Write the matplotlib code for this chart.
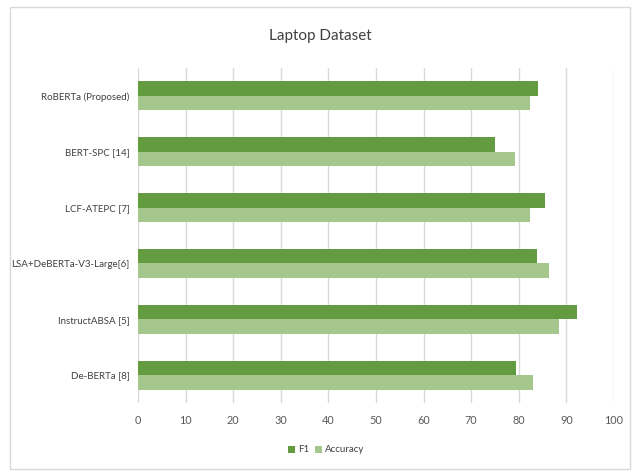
import matplotlib
matplotlib.use("Agg")
import matplotlib.pyplot as plt
import numpy as np
from matplotlib.patches import Rectangle

categories = ["RoBERTa (Proposed)", "BERT-SPC [14]", "LCF-ATEPC [7]",
              "LSA+DeBERTa-V3-Large[6]", "InstructABSA [5]", "De-BERTa [8]"]
f1 = [84.1, 75.1, 85.4, 83.9, 92.3, 79.4]
accuracy = [82.4, 79.1, 82.3, 86.3, 88.4, 82.9]
xticks = [0, 10, 20, 30, 40, 50, 60, 70, 80, 90, 100]

plt.rcParams['font.family'] = ['Lato', 'DejaVu Sans']

fig = plt.figure(figsize=(6.4, 4.72), dpi=100)
ax = fig.add_axes([138/640, 1-403/472, (614-138)/640, (403-68)/472])

n = len(categories)
y = np.arange(n)
h = 0.26
c_f1 = "#639c40"
c_acc = "#a5c78e"
ax.barh(y - h/2, f1, height=h, color=c_f1, label="F1", zorder=3)
ax.barh(y + h/2, accuracy, height=h, color=c_acc, label="Accuracy", zorder=3)

ax.set_ylim(n - 0.5, -0.5)
ax.set_xlim(0, 100)
ax.set_yticks(y)
ax.set_yticklabels(categories, fontsize=7, color="#404040")
ax.set_xticks(xticks)
ax.set_xticklabels([str(t) for t in xticks], fontsize=7.8, color="#595959")
ax.tick_params(axis='x', length=0, pad=9)
ax.tick_params(axis='y', length=0, pad=6)
ax.grid(axis='x', color="#d9d9d9", linewidth=1, zorder=0)
for s in ax.spines.values():
    s.set_visible(False)

fig.text(0.5, 1-36/472, "Laptop Dataset", ha='center', va='center', fontsize=11, color="#404040")

leg = fig.legend(loc='center', bbox_to_anchor=(326/640, 1-450/472), ncol=2, frameon=False,
                 fontsize=7, handlelength=0.7, handleheight=0.7, columnspacing=0.6,
                 handletextpad=0.3, labelcolor="#404040")

fig.patches.append(Rectangle((10/640, 1-469/472), 620/640, 462/472, transform=fig.transFigure,
                             fill=False, edgecolor="#d9d9d9", linewidth=1))

fig.savefig("out.png", dpi=100)
